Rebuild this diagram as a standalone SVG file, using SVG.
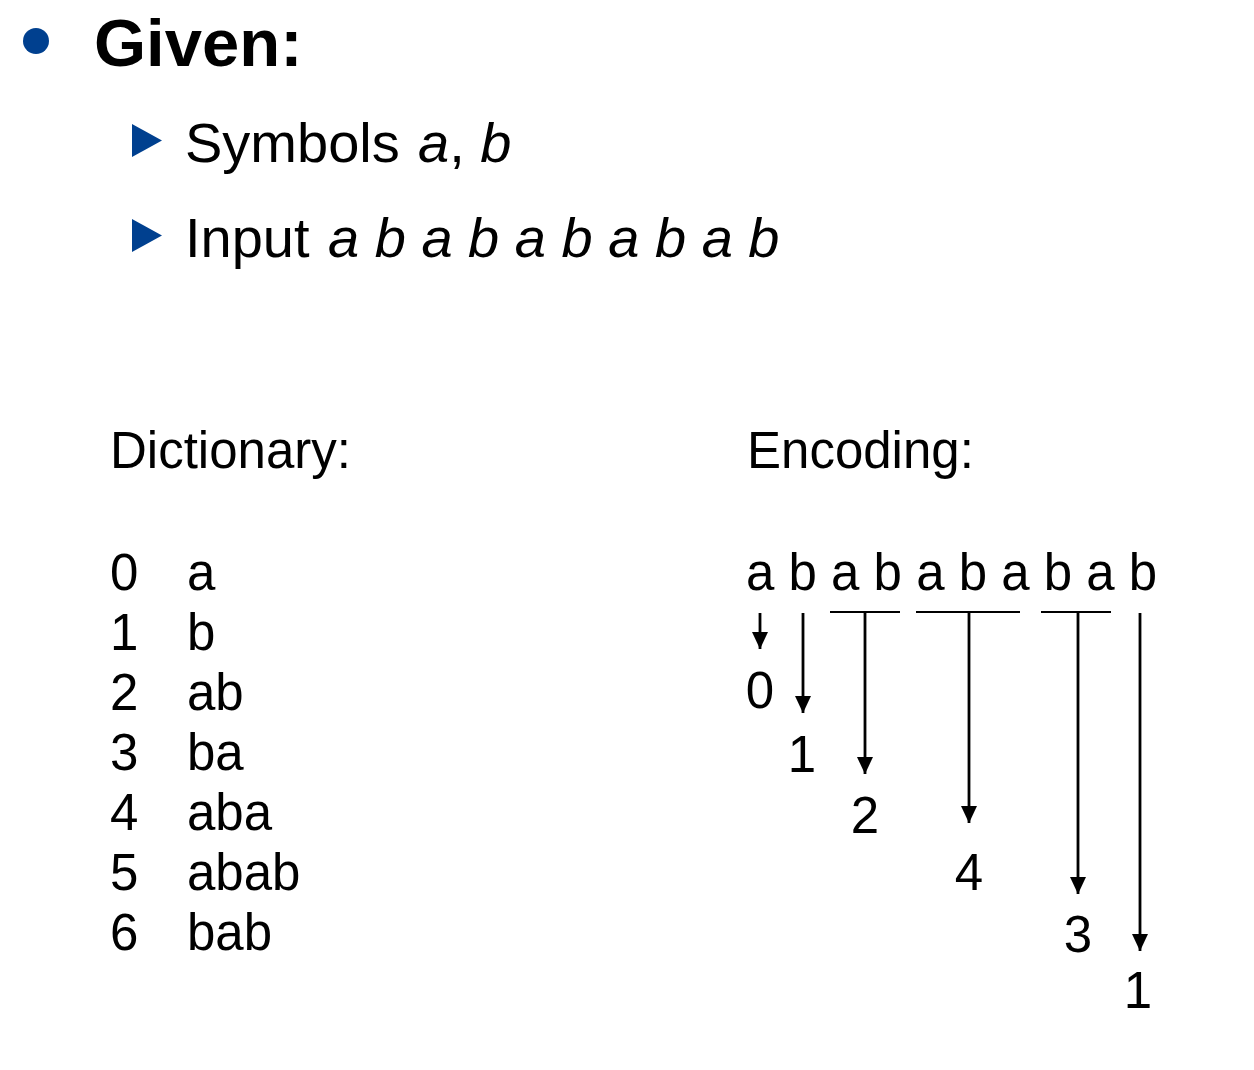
<svg xmlns="http://www.w3.org/2000/svg" width="1254" height="1070" viewBox="0 0 1254 1070">
<style>
text { font-family: "Liberation Sans", Arial, sans-serif; fill: #000; }
.h { font-size: 67px; font-weight: bold; }
.s { font-size: 56px; }
.m { font-size: 51px; }
.i { font-style: italic; }
.blue { fill: #00408f; }
.ln { stroke: #000; stroke-width: 2.8; fill: none; }
.ol { stroke: #000; stroke-width: 2; }
</style>
<defs>
<marker id="ah" viewBox="0 0 17 16" refX="17" refY="8" markerWidth="17" markerHeight="16" markerUnits="userSpaceOnUse" orient="auto">
<path d="M0,0 L17,8 L0,16 Z" fill="#000"/>
</marker>
</defs>
<g id="header">
<circle class="blue" cx="36" cy="41" r="13"/>
<text class="h" x="94" y="66">Given:</text>
</g>
<g id="item-symbols">
<polygon class="blue" points="132,124 162,140.5 132,157"/>
<text class="s" x="185" y="162">Symbols<tspan class="i" x="418">a</tspan>, <tspan class="i">b</tspan></text>
</g>
<g id="item-input">
<polygon class="blue" points="132,219 162,235.5 132,252"/>
<text class="s" x="185" y="257">Input <tspan class="i" x="328">a b a b a b a b a b</tspan></text>
</g>
<g id="dictionary">
<text class="m" x="110" y="468">Dictionary:</text>
<text class="m" x="110" y="590">0</text><text class="m" x="187" y="590">a</text>
<text class="m" x="110" y="650">1</text><text class="m" x="187" y="650">b</text>
<text class="m" x="110" y="710">2</text><text class="m" x="187" y="710">ab</text>
<text class="m" x="110" y="770">3</text><text class="m" x="187" y="770">ba</text>
<text class="m" x="110" y="830">4</text><text class="m" x="187" y="830">aba</text>
<text class="m" x="110" y="890">5</text><text class="m" x="187" y="890">abab</text>
<text class="m" x="110" y="950">6</text><text class="m" x="187" y="950">bab</text>
</g>
<g id="encoding">
<text class="m" x="747" y="468">Encoding:</text>
<text class="m" x="746" y="590">a b a b a b a b a b</text>
<text class="m" x="760" y="708" text-anchor="middle">0</text>
<text class="m" x="802" y="772" text-anchor="middle">1</text>
<text class="m" x="865" y="833" text-anchor="middle">2</text>
<text class="m" x="969" y="890" text-anchor="middle">4</text>
<text class="m" x="1078" y="952" text-anchor="middle">3</text>
<text class="m" x="1138" y="1008" text-anchor="middle">1</text>
</g>
<g id="connectors">
<line class="ol" x1="830" y1="612" x2="900" y2="612"/>
<line class="ol" x1="916" y1="612" x2="1020" y2="612"/>
<line class="ol" x1="1041" y1="612" x2="1111" y2="612"/>
<line class="ln" x1="760" y1="613" x2="760" y2="649" marker-end="url(#ah)"/>
<line class="ln" x1="803" y1="613" x2="803" y2="713" marker-end="url(#ah)"/>
<line class="ln" x1="865" y1="612" x2="865" y2="774" marker-end="url(#ah)"/>
<line class="ln" x1="969" y1="612" x2="969" y2="823" marker-end="url(#ah)"/>
<line class="ln" x1="1078" y1="612" x2="1078" y2="894" marker-end="url(#ah)"/>
<line class="ln" x1="1140" y1="613" x2="1140" y2="951" marker-end="url(#ah)"/>
</g>
</svg>
